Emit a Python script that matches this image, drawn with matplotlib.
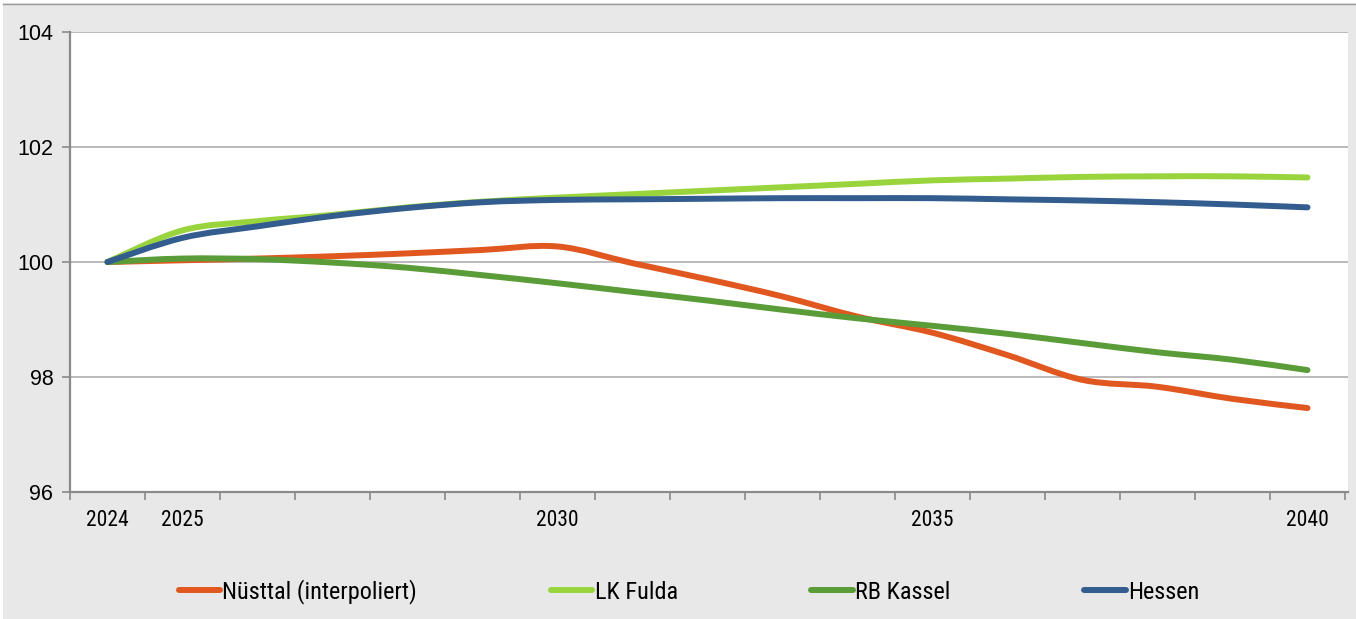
import numpy as np
import matplotlib.pyplot as plt
from matplotlib.path import Path
from matplotlib.patches import PathPatch, Rectangle
from matplotlib.lines import Line2D

years = list(range(2024, 2041))
nuesttal = [100.0, 100.03, 100.06, 100.10, 100.15, 100.21, 100.27, 99.98, 99.70, 99.40,
            99.05, 98.77, 98.38, 97.95, 97.83, 97.62, 97.46]
lk_fulda = [100.0, 100.55, 100.71, 100.82, 100.95, 101.05, 101.12, 101.18, 101.24, 101.30,
            101.36, 101.42, 101.45, 101.48, 101.49, 101.49, 101.47]
rb_kassel = [100.0, 100.06, 100.05, 99.99, 99.90, 99.77, 99.63, 99.48, 99.33, 99.17,
             99.02, 98.89, 98.75, 98.59, 98.43, 98.30, 98.12]
hessen = [100.0, 100.42, 100.62, 100.80, 100.94, 101.04, 101.08, 101.09, 101.10, 101.11,
          101.11, 101.11, 101.09, 101.07, 101.04, 101.00, 100.95]

names = ['Nüsttal (interpoliert)', 'LK Fulda', 'RB Kassel', 'Hessen']
series = [nuesttal, lk_fulda, rb_kassel, hessen]
colors = ['#e0581f', '#99d43c', '#5a9c37', '#335c8f']
shown_years = [2024, 2025, 2030, 2035, 2040]

narrow = ['Roboto Condensed', 'Liberation Sans', 'DejaVu Sans']
plt.rcParams['font.family'] = ['Liberation Sans', 'DejaVu Sans']


def smooth_path(x, y):
    # bezier through all points, like excel's smoothed line
    pts = np.column_stack([x, y]).astype(float)
    verts = [pts[0]]
    codes = [Path.MOVETO]
    n = len(pts)
    for i in range(n - 1):
        p0 = pts[i - 1] if i > 0 else pts[i]
        p1 = pts[i]
        p2 = pts[i + 1]
        p3 = pts[i + 2] if i + 2 < n else pts[i + 1]
        verts += [p1 + (p2 - p0) / 6, p2 - (p3 - p1) / 6, p2]
        codes += [Path.CURVE4] * 3
    return Path(verts, codes)


fig = plt.figure(figsize=(13.56, 6.19), dpi=100)
fig.patch.set_facecolor('white')
fig.patches.append(Rectangle((3 / 1356, 0), 1 - 3 / 1356, 1 - 3 / 619, transform=fig.transFigure,
                             facecolor='#e8e8e8', edgecolor='none', zorder=-10))
fig.lines.append(Line2D([3 / 1356, 1], [1 - 3.5 / 619] * 2, transform=fig.transFigure,
                        color='#9a9a9a', lw=1))

ax = fig.add_axes([70 / 1356, 1 - 492 / 619, 1278 / 1356, 460 / 619])
ax.set_facecolor('white')

xpos = np.arange(len(years))
for vals, c, name in zip(series, colors, names):
    patch = PathPatch(smooth_path(xpos, vals), fill=False, edgecolor=c, lw=4.3,
                      capstyle='round', joinstyle='round', zorder=3)
    ax.add_patch(patch)

ax.set_xlim(-0.5, len(years) - 0.5 + 0.04)
ax.set_ylim(96, 104)

ax.set_yticks([96, 98, 100, 102, 104])
ax.set_yticklabels(['96', '98', '100', '102', '104'], fontsize=15.5)
ax.yaxis.grid(True, color='#b4b4b4', lw=1.3)
ax.set_axisbelow(True)

ax.set_xticks(np.arange(-0.5, len(years), 1.0))
ax.set_xticklabels([])
ax.set_xticks([years.index(y) for y in shown_years], minor=True)
ax.set_xticklabels([str(y) for y in shown_years], minor=True, fontsize=15.5, family=narrow)
ax.tick_params(axis='x', which='major', length=6, width=1.2, color='#8a8a8a', direction='out')
ax.tick_params(axis='x', which='minor', length=0, pad=13)
ax.tick_params(axis='y', length=6, width=1.2, color='#8a8a8a', pad=6)

for s in ['top', 'right']:
    ax.spines[s].set_visible(False)
for s in ['left', 'bottom']:
    ax.spines[s].set_color('#8a8a8a')
    ax.spines[s].set_linewidth(1.6)

handles = [Line2D([], [], color=c, lw=4.3, solid_capstyle='round') for c in colors]
fig.legend(handles, names, loc='center', bbox_to_anchor=(689 / 1356, 1 - 592 / 619), ncol=4,
           frameon=False, prop={'family': narrow, 'size': 17.5}, handlelength=1.7,
           handletextpad=0.1, columnspacing=5.5)

fig.savefig('out.png', dpi=100, facecolor=fig.get_facecolor())
